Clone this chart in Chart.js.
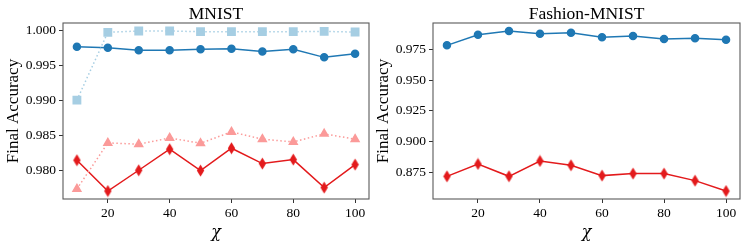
<!DOCTYPE html>
<html>
<head>
<meta charset="utf-8">
<script src="https://cdn.jsdelivr.net/npm/chart.js@4"></script>
<style>
  html, body { margin: 0; padding: 0; background: #fff; }
  .wrap { display: flex; width: 747px; height: 243px; }
  #left { position: relative; width: 370px; height: 243px; }
  #right { position: relative; width: 377px; height: 243px; }
</style>
</head>
<body>
<div class="wrap">
  <div id="left"><canvas id="mnistChart"></canvas></div>
  <div id="right"><canvas id="fashionChart"></canvas></div>
</div>
<script>
const chiValues = [10, 20, 30, 40, 50, 60, 70, 80, 90, 100];
const xTicks = [20, 40, 60, 80, 100];

// MNIST
const mnistBlue = [0.99762, 0.99748, 0.9971, 0.9971, 0.99724, 0.99733, 0.99695, 0.99724, 0.9961, 0.99662];
const mnistLightBlue = [0.990, 0.99967, 0.99986, 0.99986, 0.99976, 0.99976, 0.99976, 0.99976, 0.9998, 0.99971];
const mnistLightRed = [0.97733, 0.9839, 0.98371, 0.98461, 0.98385, 0.98547, 0.98443, 0.98404, 0.98519, 0.98443];
const mnistRed = [0.98143, 0.97704, 0.980, 0.983, 0.97995, 0.98314, 0.98095, 0.98152, 0.97753, 0.98081];
const mnistYTicks = [0.980, 0.985, 0.990, 0.995, 1.000];

// Fashion-MNIST
const fashionBlue = [0.97827, 0.98693, 0.98995, 0.98775, 0.98857, 0.9848, 0.98587, 0.98342, 0.98399, 0.98284];
const fashionRed = [0.87149, 0.88154, 0.8715, 0.884, 0.88047, 0.87206, 0.8737, 0.8737, 0.86797, 0.85948];
const fashionYTicks = [0.875, 0.900, 0.925, 0.950, 0.975];

const FONT = "'Liberation Serif', 'DejaVu Serif', serif";

function thinDiamond(color) {
  const c = document.createElement('canvas');
  c.width = 9; c.height = 13;
  const g = c.getContext('2d');
  g.fillStyle = color;
  g.beginPath();
  g.moveTo(4.5, 0.5);
  g.lineTo(8.2, 6.5);
  g.lineTo(4.5, 12.5);
  g.lineTo(0.8, 6.5);
  g.closePath();
  g.fill();
  return c;
}

function pts(vals) {
  return vals.map((v, i) => ({ x: chiValues[i], y: v }));
}

// axes box + panel title
const framePlugin = {
  id: 'frame',
  afterDraw(chart, args, opts) {
    const { ctx, chartArea: a } = chart;
    ctx.save();
    ctx.lineWidth = 1.1;
    ctx.strokeStyle = '#5a5a5a';
    ctx.strokeRect(a.left, a.top, a.right - a.left, a.bottom - a.top);
    ctx.fillStyle = '#000';
    ctx.font = '17.5px ' + FONT;
    ctx.textAlign = 'center';
    ctx.textBaseline = 'alphabetic';
    ctx.fillText(opts.text, (a.left + a.right) / 2, 19);
    ctx.restore();
  }
};

function noPad(s) {
  s.paddingLeft = 0; s.paddingRight = 0; s.paddingTop = 0; s.paddingBottom = 0;
}

function makeChart(id, datasets, yMin, yMax, yTicks, title, rightPad) {
  return new Chart(document.getElementById(id), {
    type: 'line',
    data: { datasets: datasets },
    plugins: [framePlugin],
    options: {
      responsive: true,
      maintainAspectRatio: false,
      animation: false,
      layout: { autoPadding: false, padding: { top: 23, right: rightPad, left: 0, bottom: 0 } },
      plugins: {
        legend: { display: false },
        tooltip: { enabled: false },
        frame: { text: title }
      },
      scales: {
        x: {
          type: 'linear',
          min: 5.5,
          max: 104.5,
          afterBuildTicks: s => { s.ticks = xTicks.map(v => ({ value: v })); },
          afterFit: s => { s.height = 44; noPad(s); },
          grid: { drawOnChartArea: false, tickLength: 4, color: '#333' },
          border: { display: false },
          ticks: { color: '#000', font: { family: FONT, size: 13.5 }, padding: 2, maxRotation: 0 },
          title: { display: true, text: 'χ', color: '#000', font: { family: "'DejaVu Serif', serif", size: 16, style: 'italic' }, padding: { top: 0, bottom: 1 } }
        },
        y: {
          min: yMin,
          max: yMax,
          afterBuildTicks: s => { s.ticks = yTicks.map(v => ({ value: v })); },
          afterFit: s => { s.width = 63; noPad(s); },
          grid: { drawOnChartArea: false, tickLength: 4, color: '#333' },
          border: { display: false },
          ticks: { color: '#000', font: { family: FONT, size: 13.5 }, padding: 3, callback: v => v.toFixed(3) },
          title: { display: true, text: 'Final Accuracy', color: '#000', font: { family: FONT, size: 17 }, padding: { top: 3, bottom: 0 } }
        }
      }
    }
  });
}

const redDiamond = thinDiamond('#e31a1c');

makeChart('mnistChart', [
  { data: pts(mnistLightBlue), borderColor: '#a6cee3', backgroundColor: '#a6cee3', borderWidth: 1.5, borderDash: [1.5, 2.5], pointStyle: 'rect', pointRadius: 5.2 },
  { data: pts(mnistBlue), borderColor: '#1f78b4', backgroundColor: '#1f78b4', borderWidth: 1.5, pointStyle: 'circle', pointRadius: 3.5 },
  { data: pts(mnistLightRed), borderColor: '#fb9a99', backgroundColor: '#fb9a99', borderWidth: 1.5, borderDash: [1.5, 2.5], pointStyle: 'triangle', pointRadius: 4.5 },
  { data: pts(mnistRed), borderColor: '#e31a1c', backgroundColor: '#e31a1c', borderWidth: 1.5, pointStyle: redDiamond }
], 0.97590, 1.0010, mnistYTicks, 'MNIST', 1);

makeChart('fashionChart', [
  { data: pts(fashionBlue), borderColor: '#1f78b4', backgroundColor: '#1f78b4', borderWidth: 1.5, pointStyle: 'circle', pointRadius: 3.5 },
  { data: pts(fashionRed), borderColor: '#e31a1c', backgroundColor: '#e31a1c', borderWidth: 1.5, pointStyle: redDiamond }
], 0.8530, 0.9965, fashionYTicks, 'Fashion-MNIST', 7);
</script>
</body>
</html>
